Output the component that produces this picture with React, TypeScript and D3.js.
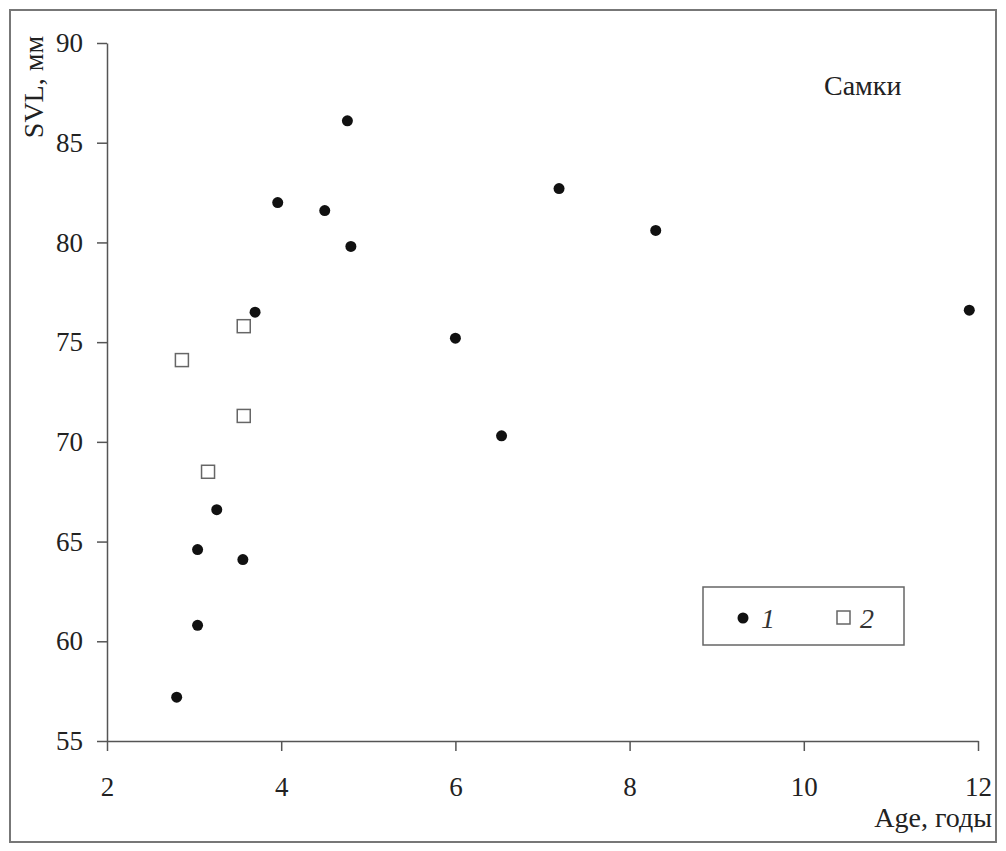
import React, { useEffect, useRef } from "react";
import * as d3 from "d3";

// series 1 (filled dots)
const ageDots = [2.8, 3.04, 3.04, 3.26, 3.56, 3.7, 3.96, 4.5, 4.76, 4.8, 6.0, 6.53, 7.19, 8.3, 11.9];
const svlDots = [57.2, 60.8, 64.6, 66.6, 64.1, 76.5, 82.0, 81.6, 86.1, 79.8, 75.2, 70.3, 82.7, 80.6, 76.6];

// series 2 (open squares)
const ageSquares = [2.86, 3.16, 3.57, 3.57];
const svlSquares = [74.1, 68.5, 71.3, 75.8];

const xTicks = [2, 4, 6, 8, 10, 12];
const yTicks = [55, 60, 65, 70, 75, 80, 85, 90];
const legendLabels = ["1", "2"];

const W = 1006;
const H = 851;
const FONT = "'Liberation Serif', 'Times New Roman', serif";

const App = () => {
  const svgRef = useRef<SVGSVGElement>(null);

  useEffect(() => {
    const svg = d3.select(svgRef.current);
    svg.selectAll("*").remove();

    const left = 107, right = 978, top = 43, bottom = 741;
    const x = d3.scaleLinear().domain([2, 12]).range([left, right]);
    const y = d3.scaleLinear().domain([55, 90]).range([bottom, top]);

    svg.append("rect").attr("width", W).attr("height", H).attr("fill", "#fff");

    // outer frame
    svg
      .append("rect")
      .attr("x", 10)
      .attr("y", 10)
      .attr("width", 986)
      .attr("height", 832)
      .attr("fill", "none")
      .attr("stroke", "#777")
      .attr("stroke-width", 2);

    // y axis
    const yAxis = svg
      .append("g")
      .attr("transform", `translate(${left},0)`)
      .call(d3.axisLeft(y).tickValues(yTicks).tickSize(10).tickPadding(14).tickSizeOuter(0));
    yAxis.select(".domain").attr("stroke", "#555").attr("stroke-width", 1.5);
    yAxis.selectAll(".tick line").attr("stroke", "#555").attr("stroke-width", 1.5);
    yAxis
      .selectAll(".tick text")
      .attr("font-family", FONT)
      .attr("font-size", 27)
      .attr("fill", "#222");

    // x axis
    const xAxis = svg
      .append("g")
      .attr("transform", `translate(0,${bottom})`)
      .call(d3.axisBottom(x).tickValues(xTicks).tickSize(10).tickPadding(26).tickSizeOuter(0));
    xAxis.select(".domain").attr("stroke", "#555").attr("stroke-width", 1.5);
    xAxis.selectAll(".tick line").attr("stroke", "#555").attr("stroke-width", 1.5);
    xAxis
      .selectAll(".tick text")
      .attr("font-family", FONT)
      .attr("font-size", 27)
      .attr("fill", "#222");

    // axis titles
    svg
      .append("text")
      .attr("transform", "translate(43,87) rotate(-90)")
      .attr("text-anchor", "middle")
      .attr("font-family", FONT)
      .attr("font-size", 28)
      .attr("fill", "#222")
      .text("SVL, мм");

    svg
      .append("text")
      .attr("x", 992)
      .attr("y", 827)
      .attr("text-anchor", "end")
      .attr("font-family", FONT)
      .attr("font-size", 28)
      .attr("fill", "#222")
      .text("Age, годы");

    svg
      .append("text")
      .attr("x", 824)
      .attr("y", 95)
      .attr("font-family", FONT)
      .attr("font-size", 28)
      .attr("fill", "#222")
      .text("Самки");

    // squares
    svg
      .append("g")
      .selectAll("rect")
      .data(ageSquares.map((a, i) => [a, svlSquares[i]]))
      .join("rect")
      .attr("x", (d) => x(d[0]) - 6.5)
      .attr("y", (d) => y(d[1]) - 6.5)
      .attr("width", 13)
      .attr("height", 13)
      .attr("fill", "#fff")
      .attr("stroke", "#666")
      .attr("stroke-width", 1.5);

    // dots
    svg
      .append("g")
      .selectAll("circle")
      .data(ageDots.map((a, i) => [a, svlDots[i]]))
      .join("circle")
      .attr("cx", (d) => x(d[0]))
      .attr("cy", (d) => y(d[1]))
      .attr("r", 5.5)
      .attr("fill", "#111");

    // legend
    const lg = svg.append("g").attr("transform", "translate(703,587)");
    lg.append("rect")
      .attr("width", 201)
      .attr("height", 58)
      .attr("fill", "#fff")
      .attr("stroke", "#666")
      .attr("stroke-width", 1.5);
    lg.append("circle").attr("cx", 40).attr("cy", 31).attr("r", 5.5).attr("fill", "#111");
    lg.append("rect")
      .attr("x", 134)
      .attr("y", 24)
      .attr("width", 13)
      .attr("height", 13)
      .attr("fill", "#fff")
      .attr("stroke", "#666")
      .attr("stroke-width", 1.5);
    lg.selectAll("text.lab")
      .data(legendLabels)
      .join("text")
      .attr("class", "lab")
      .attr("x", (_, i) => (i === 0 ? 58 : 157))
      .attr("y", 41)
      .attr("font-family", FONT)
      .attr("font-style", "italic")
      .attr("font-size", 28)
      .attr("fill", "#333")
      .text((d) => d);
  }, []);

  return (
    <svg
      ref={svgRef}
      width={W}
      height={H}
      style={{ position: "absolute", left: 0, top: 0, display: "block" }}
    />
  );
};

export default App;
